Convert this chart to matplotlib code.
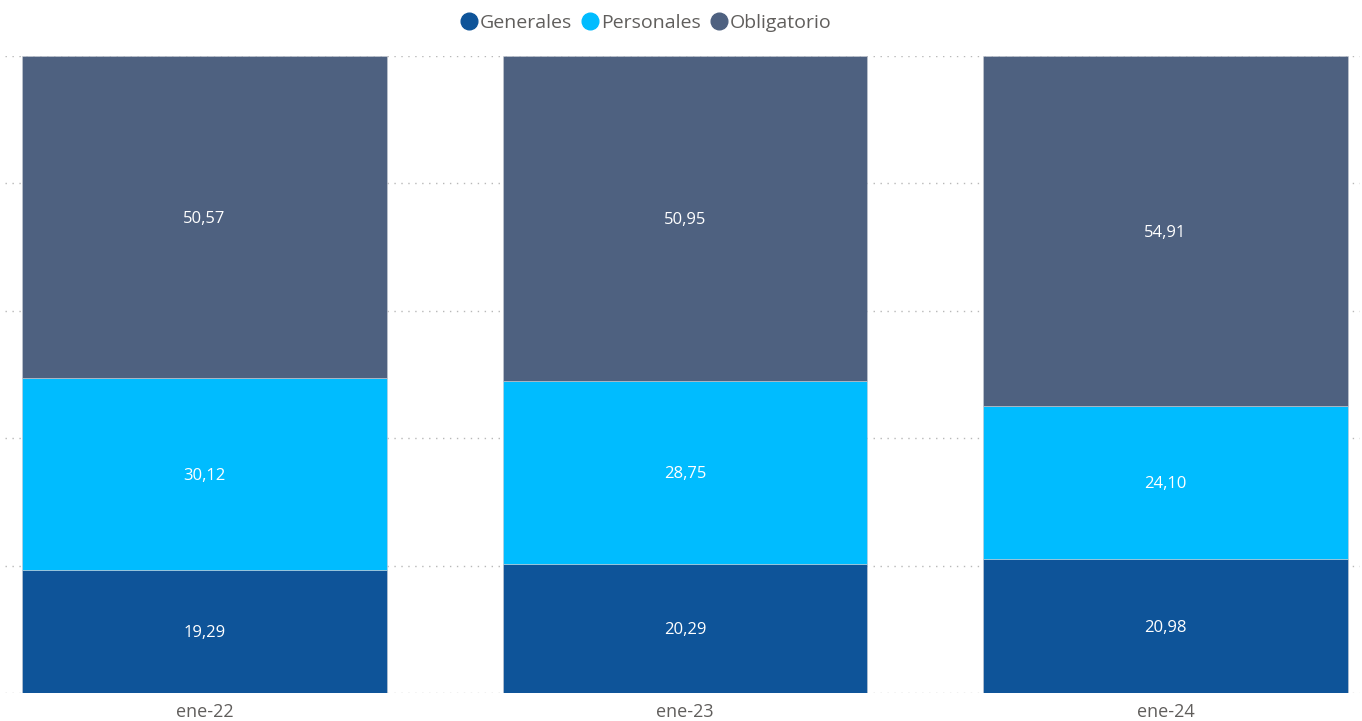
import matplotlib.pyplot as plt
import numpy as np
from matplotlib.lines import Line2D

plt.rcParams['font.family'] = ['Open Sans', 'DejaVu Sans']

categories = ['ene-22', 'ene-23', 'ene-24']
generales = [19.29, 20.29, 20.98]
personales = [30.12, 28.75, 24.10]
obligatorio = [50.57, 50.95, 54.91]

series = [
    ('Generales', generales, '#0E5499'),
    ('Personales', personales, '#00BCFF'),
    ('Obligatorio', obligatorio, '#4E6180'),
]

fig = plt.figure(figsize=(13.62, 7.21), dpi=100)
ax = fig.add_axes([5 / 1362, 28 / 721, 1355 / 1362, 637 / 721])

x = np.arange(len(categories))
total = np.array(generales) + np.array(personales) + np.array(obligatorio)
bottom = np.zeros(len(categories))
for name, vals, color in series:
    vals = np.array(vals)
    pct = vals / total * 100
    ax.bar(x, pct, width=0.758, bottom=bottom, color=color, label=name,
           edgecolor='#c8ccd4', linewidth=0.4, zorder=2)
    for xi, b, p, v in zip(x, bottom, pct, vals):
        ax.text(xi, b + p / 2 - 0.3, f'{v:.2f}'.replace('.', ','), ha='center', va='center',
                color='white', fontsize=12, zorder=3)
    bottom += pct

ax.set_xlim(-0.415, 2.405)
ax.set_ylim(0, 100)
ax.set_yticks([0, 20, 40, 60, 80, 100])
ax.yaxis.grid(True, linestyle=(0, (1, 4)), color='#b8b8b8', linewidth=1, zorder=0)
ax.tick_params(axis='y', left=False, labelleft=False)
ax.tick_params(axis='x', bottom=False, labelsize=13, labelcolor='#605E5C', pad=4)
ax.set_xticks(x)
ax.set_xticklabels(categories)
for s in ax.spines.values():
    s.set_visible(False)

labels = [name for name, _, _ in series]
proxies = [Line2D([], [], marker='o', linestyle='none', markersize=12,
                  markerfacecolor=c, markeredgecolor=c) for _, _, c in series]
fig.legend(proxies, labels, loc='center', bbox_to_anchor=(645 / 1362, 1 - 23 / 721),
           ncol=3, frameon=False, fontsize=14, handletextpad=0.0, columnspacing=0.4,
           labelcolor='#605E5C', handlelength=1.1)

fig.savefig('out.png', dpi=100)
